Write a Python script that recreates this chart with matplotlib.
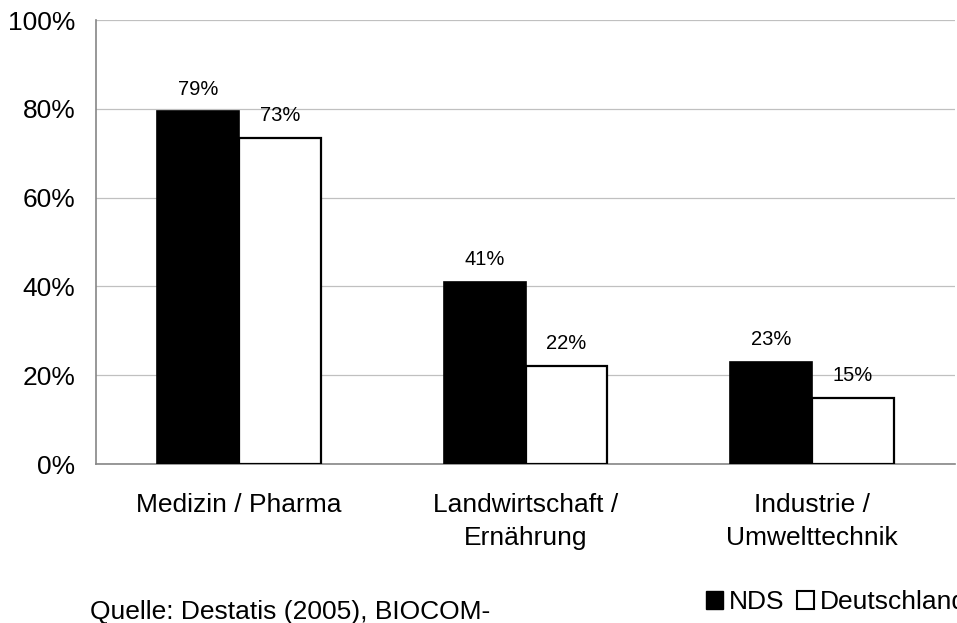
import numpy as np
import matplotlib.pyplot as plt
from matplotlib.patches import Patch

plt.rcParams['font.family'] = ['Liberation Sans', 'DejaVu Sans']

categories = ["Medizin / Pharma", "Landwirtschaft /\nErnährung", "Industrie /\nUmwelttechnik"]
nds = [0.794, 0.41, 0.23]
deutschland = [0.734, 0.221, 0.149]
labels_nds = ["79%", "41%", "23%"]
labels_de = ["73%", "22%", "15%"]

W, H = 957, 623
fig = plt.figure(figsize=(W / 100, H / 100), dpi=100)
ax = fig.add_axes([96 / W, (H - 464) / H, 859 / W, 444 / H])

x = np.arange(len(categories))
bw = 0.286
b1 = ax.bar(x - bw / 2, nds, bw, color="black", edgecolor="black", linewidth=1.2, zorder=3)
b2 = ax.bar(x + bw / 2, deutschland, bw, color="white", edgecolor="black", linewidth=1.6, zorder=3)

# value labels above each bar
for bars, labs in ((b1, labels_nds), (b2, labels_de)):
    for rect, lab in zip(bars, labs):
        ax.annotate(lab, (rect.get_x() + rect.get_width() / 2, rect.get_height()),
                    xytext=(0, 12), textcoords="offset points", ha="center", va="baseline",
                    fontsize=14.5)

ax.set_xlim(-0.5, 2.5)
ax.set_ylim(0, 1)
yt = np.arange(0, 1.01, 0.2)
ax.set_yticks(yt)
ax.set_yticklabels([f"{int(round(v * 100))}%" for v in yt], fontsize=19)
ax.set_xticks(x)
ax.set_xticklabels(categories, fontsize=19, linespacing=1.45)
ax.tick_params(axis="x", length=0, pad=21)
ax.tick_params(axis="y", length=0, pad=15)
ax.yaxis.grid(True, color="#c0c0c0", linewidth=0.9, zorder=0)
for s in ["top", "right"]:
    ax.spines[s].set_visible(False)
for s in ["left", "bottom"]:
    ax.spines[s].set_color("#868686")
    ax.spines[s].set_linewidth(1.2)

fig.text(90 / W, 1 - 600 / H, "Quelle: Destatis (2005), BIOCOM-", fontsize=19, va="top")

handles = [Patch(facecolor="black", edgecolor="black"),
           Patch(facecolor="white", edgecolor="black", linewidth=1.5)]
fig.legend(handles, ["NDS", "Deutschland"], loc="center left",
           bbox_to_anchor=(706 / W, 1 - 602 / H), ncol=2, frameon=False, fontsize=19,
           borderpad=0, borderaxespad=0, handlelength=0.65, handleheight=0.65,
           handletextpad=0.2, columnspacing=0.5)

fig.savefig("out.png", dpi=100)
